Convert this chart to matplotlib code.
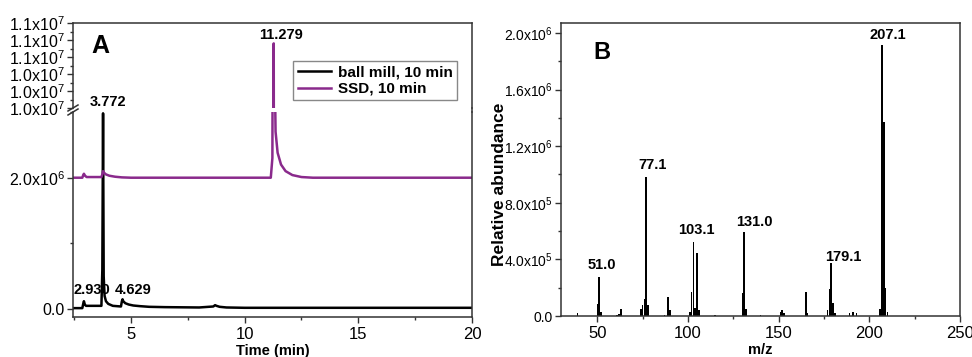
import numpy as np
import matplotlib
matplotlib.use("Agg")
import matplotlib.pyplot as plt
from matplotlib.ticker import MultipleLocator, FuncFormatter
from matplotlib.lines import Line2D

plt.rcParams['font.family'] = ['Liberation Sans', 'DejaVu Sans']
plt.rcParams['mathtext.fontset'] = 'custom'
plt.rcParams['mathtext.rm'] = 'Liberation Sans'
plt.rcParams['mathtext.it'] = 'Liberation Sans:italic'
plt.rcParams['mathtext.bf'] = 'Liberation Sans:bold'

# ---- Panel A: chromatograms (time in min, intensity in 1e6 counts) ----
t_ballmill = [2.45, 2.86, 2.90, 2.93, 2.97, 3.02, 3.70, 3.74, 3.772, 3.80, 3.84,
              3.90, 4.00, 4.20, 4.56, 4.60, 4.629, 4.66, 4.75, 4.90, 5.10, 5.40,
              5.80, 6.50, 8.00, 8.62, 8.70, 8.76, 8.90, 9.20, 10.0, 12.0, 20.0]
i_ballmill = [0.015, 0.015, 0.08, 0.12, 0.07, 0.05, 0.05, 0.6, 2.98, 0.5, 0.2,
              0.12, 0.08, 0.05, 0.04, 0.12, 0.15, 0.12, 0.09, 0.07, 0.055, 0.045,
              0.035, 0.03, 0.025, 0.04, 0.06, 0.05, 0.035, 0.025, 0.02, 0.02, 0.02]

t_ssd = [2.45, 2.86, 2.90, 2.93, 2.98, 3.05, 3.70, 3.74, 3.772, 3.80, 3.90, 4.05,
         4.30, 4.60, 5.00, 6.0, 11.15, 11.22, 11.25, 11.279, 11.31, 11.36, 11.45,
         11.6, 11.8, 12.1, 12.5, 13.0, 20.0]
i_ssd = [2.0, 2.0, 2.04, 2.06, 2.03, 2.01, 2.01, 2.05, 2.1, 2.08, 2.05, 2.03,
         2.015, 2.005, 2.0, 2.0, 2.0, 2.3, 6.0, 10.76, 4.0, 2.7, 2.38,
         2.2, 2.1, 2.04, 2.01, 2.0, 2.0]

# peak labels: text, x, y (y in 1e6 counts)
peaks_a_low = [("2.930", 3.29, 0.29), ("4.629", 5.09, 0.29), ("3.772", 3.97, 3.15)]
peaks_a_high = [("11.279", 11.61, 10.86)]

# ---- Panel B: mass spectrum (abundance in 1e6) ----
mz = [39, 50, 51, 52, 61, 62, 63, 74, 75, 76, 77, 78, 87, 89, 90, 101, 102, 103,
      104, 105, 106, 115, 130, 131, 132, 140, 151, 152, 153, 165, 166, 177, 178,
      179, 180, 181, 189, 191, 193, 206, 207, 208, 209, 210]
abund = [0.023, 0.085, 0.275, 0.03, 0.01, 0.015, 0.05, 0.05, 0.08, 0.12, 0.98,
         0.08, 0.01, 0.136, 0.04, 0.03, 0.17, 0.52, 0.06, 0.445, 0.04, 0.01,
         0.16, 0.59, 0.05, 0.01, 0.03, 0.04, 0.02, 0.17, 0.02, 0.04, 0.19,
         0.375, 0.09, 0.02, 0.02, 0.03, 0.02, 0.05, 1.915, 1.37, 0.2, 0.03]
peaks_b = [("51.0", 52.3, 0.36), ("77.1", 80.5, 1.067), ("103.1", 104.4, 0.608),
           ("131.0", 136.4, 0.664), ("179.1", 185.8, 0.417), ("207.1", 210.3, 1.986)]

purple = '#8a2a8c'
spine_c = '#333333'


def sci_fmt(v, pos):
    if abs(v) < 1e-6:
        return "0.0"
    e = int(np.floor(np.log10(abs(v)) + 1e-9))
    m = v / 10 ** e
    return f"{m:.1f}x10$^{{{e}}}$"


def style(ax, ysize):
    for s in ax.spines.values():
        s.set_color(spine_c)
        s.set_linewidth(1.1)
    ax.tick_params(which='major', direction='out', length=4, width=1, color=spine_c)
    ax.tick_params(which='minor', direction='out', length=2.5, width=1, color=spine_c)
    ax.tick_params(axis='y', labelsize=ysize, pad=2)
    ax.tick_params(axis='x', labelsize=12)


W, H = 972, 357
fig = plt.figure(figsize=(W / 100, H / 100), dpi=100)

axl = fig.add_axes([73 / W, 1 - 317 / H, 399 / W, 205 / H])
axu = fig.add_axes([73 / W, 1 - 108 / H, 399 / W, 85 / H])
axu.patch.set_alpha(0)

ball = np.array(i_ballmill) * 1e6
ssd = np.array(i_ssd) * 1e6
for ax in (axl, axu):
    ax.plot(t_ballmill, ball, color='black', lw=1.8, label='ball mill, 10 min')
    ax.plot(t_ssd, ssd, color=purple, lw=1.8, label='SSD, 10 min')
    ax.set_xlim(2.45, 20)
    style(ax, 11.5)
    ax.yaxis.set_major_formatter(FuncFormatter(sci_fmt))

axl.set_ylim(-0.12e6, 3.0e6)
axl.yaxis.set_major_locator(MultipleLocator(2e6))
axl.yaxis.set_minor_locator(MultipleLocator(1e6))
axl.xaxis.set_major_locator(MultipleLocator(5))
axl.xaxis.set_minor_locator(MultipleLocator(2.5))
axl.spines['top'].set_visible(False)
axl.set_xlabel("Time (min)", fontsize=10.5, fontweight='bold', labelpad=1)

axu.set_ylim(1.0e7, 1.1e7)
axu.yaxis.set_major_locator(MultipleLocator(0.02e7))
axu.yaxis.set_minor_locator(MultipleLocator(0.01e7))
axu.spines['bottom'].set_visible(False)
axu.tick_params(axis='x', which='both', bottom=False, labelbottom=False)

for txt, x, y in peaks_a_low:
    axl.text(x, y * 1e6, txt, ha='center', va='center', fontsize=10.5,
             fontweight='bold', clip_on=False, zorder=5)
for txt, x, y in peaks_a_high:
    axu.text(x, y * 1e6, txt, ha='center', va='center', fontsize=10.5,
             fontweight='bold')
axu.text(0.045, 0.73, "A", transform=axu.transAxes, fontsize=18,
         fontweight='bold', va='center', ha='left')

axu.legend(loc='upper right', bbox_to_anchor=(457 / W, 1 - 61 / H),
           bbox_transform=fig.transFigure, prop={'weight': 'bold', 'size': 11},
           frameon=True, fancybox=False, edgecolor='#888888', framealpha=1,
           handlelength=2.2, handletextpad=0.4, borderpad=0.3,
           labelspacing=0.15, borderaxespad=0)

# continuous right spine across the break, and break marks on the left
xr = axl.get_position().x1
xl = axl.get_position().x0
y_top_low = axl.get_position().y1
y_bot_up = axu.get_position().y0
fig.add_artist(Line2D([xr, xr], [y_top_low, y_bot_up], transform=fig.transFigure,
                      color=spine_c, lw=1.1))
dx, dy = 5 / W, 3 / H
for yc in (y_top_low, y_bot_up):
    fig.add_artist(Line2D([xl - dx, xl + dx], [yc - dy, yc + dy],
                          transform=fig.transFigure, color=spine_c, lw=1.1))

# ---- Panel B ----
axb = fig.add_axes([561 / W, 1 - 316 / H, 399 / W, 293 / H])
axb.bar(mz, np.array(abund) * 1e6, width=0.85, color='black', edgecolor='none')
axb.set_xlim(30, 250)
axb.set_ylim(0, 2.07e6)
axb.xaxis.set_major_locator(MultipleLocator(50))
axb.xaxis.set_minor_locator(MultipleLocator(25))
axb.yaxis.set_major_locator(MultipleLocator(4e5))
axb.yaxis.set_minor_locator(MultipleLocator(2e5))
axb.yaxis.set_major_formatter(FuncFormatter(sci_fmt))
style(axb, 10)
axb.set_xlabel("m/z", fontsize=10.5, fontweight='bold', labelpad=1)
axb.set_ylabel("Relative abundance", fontsize=12.5, fontweight='bold')
axb.yaxis.set_label_coords(-0.135, 0.45)
for txt, x, y in peaks_b:
    axb.text(x, y * 1e6, txt, ha='center', va='center', fontsize=10.5,
             fontweight='bold')
axb.text(0.08, 0.898, "B", transform=axb.transAxes, fontsize=17,
         fontweight='bold', va='center', ha='left')

fig.savefig("out.png", dpi=100)
